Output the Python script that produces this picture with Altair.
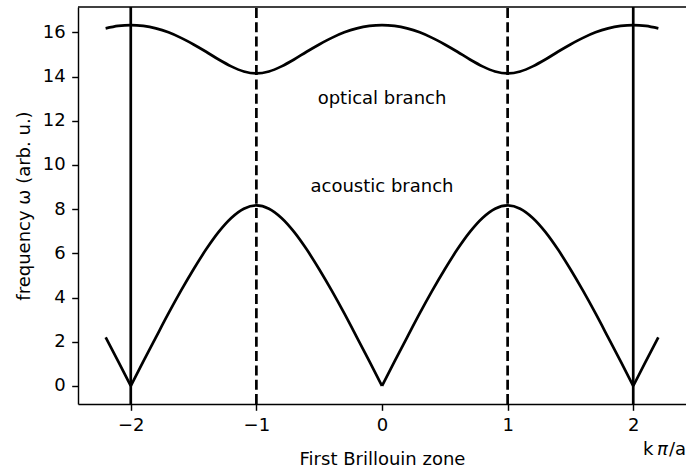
import altair as alt
import pandas as pd

# Wave vector in units of pi/a
k_vals = [-2.2, -2.1, -2.0, -1.9, -1.8, -1.7, -1.6, -1.5, -1.4, -1.3, -1.2,
          -1.1, -1.0, -0.9, -0.8, -0.7, -0.6, -0.5, -0.4, -0.3, -0.2, -0.1,
          0.0, 0.1, 0.2, 0.3, 0.4, 0.5, 0.6, 0.7, 0.8, 0.9, 1.0, 1.1, 1.2,
          1.3, 1.4, 1.5, 1.6, 1.7, 1.8, 1.9, 2.0, 2.1, 2.2]

# Optical branch frequency (arb. u.)
optical = [16.18, 16.29, 16.33, 16.29, 16.18, 16.00, 15.75, 15.45, 15.12,
           14.77, 14.46, 14.23, 14.14, 14.23, 14.46, 14.77, 15.12, 15.45,
           15.75, 16.00, 16.18, 16.29, 16.33, 16.29, 16.18, 16.00, 15.75,
           15.45, 15.12, 14.77, 14.46, 14.23, 14.14, 14.23, 14.46, 14.77,
           15.12, 15.45, 15.75, 16.00, 16.18, 16.29, 16.33, 16.29, 16.18]

# Acoustic branch frequency (arb. u.)
acoustic = [2.20, 1.11, 0.00, 1.11, 2.20, 3.28, 4.31, 5.28, 6.18, 6.97,
            7.60, 8.02, 8.17, 8.02, 7.60, 6.97, 6.18, 5.28, 4.31, 3.28,
            2.20, 1.11, 0.00, 1.11, 2.20, 3.28, 4.31, 5.28, 6.18, 6.97,
            7.60, 8.02, 8.17, 8.02, 7.60, 6.97, 6.18, 5.28, 4.31, 3.28,
            2.20, 1.11, 0.00, 1.11, 2.20]

# Points where the acoustic branch has a kink (omega = 0)
acoustic_cusps = [-2.0, 0.0, 2.0]

# Zone boundaries: solid at +-2, dashed at +-1
solid_lines = [-2, 2]
dashed_lines = [-1, 1]

# Branch annotations
label_text = ["optical branch", "acoustic branch"]
label_k = [0.0, 0.0]
label_w = [12.75, 8.78]

x_ticks = [-2, -1, 0, 1, 2]
y_ticks = [0, 2, 4, 6, 8, 10, 12, 14, 16]

FONT = "DejaVu Sans"
FS = 18
LW = 2.7
W, H = 608, 397

x_scale = alt.Scale(domain=[-2.42, 2.42], nice=False, zero=False)
y_scale = alt.Scale(domain=[-0.8165, 17.146], nice=False, zero=False)

opt_df = pd.DataFrame({"k": k_vals, "w": optical})

# split the acoustic branch at its kinks so the smoothing keeps them sharp
rows = []
seg = 0
for k, w in zip(k_vals, acoustic):
    rows.append({"k": k, "w": w, "seg": seg})
    if any(abs(k - c) < 1e-9 for c in acoustic_cusps):
        seg += 1
        rows.append({"k": k, "w": w, "seg": seg})
ac_df = pd.DataFrame(rows)

x_axis = alt.Axis(
    values=x_ticks, format="d", title="First Brillouin zone", grid=False,
    tickSize=6.3, tickWidth=1.44, tickColor="black",
    domainColor="black", domainWidth=1.44,
    labelFont=FONT, labelFontSize=FS, labelColor="black", labelPadding=6.0,
    titleFont=FONT, titleFontSize=FS, titleFontWeight="normal",
    titleColor="black", titleBaseline="alphabetic", titleY=60,
)
y_axis = alt.Axis(
    values=y_ticks, format="d", title="frequency ω (arb. u.)", grid=False,
    tickSize=6.3, tickWidth=1.44, tickColor="black",
    domainColor="black", domainWidth=1.44,
    labelFont=FONT, labelFontSize=FS, labelColor="black", labelPadding=6.5,
    labelBaseline="middle",
    titleFont=FONT, titleFontSize=FS, titleFontWeight="normal",
    titleColor="black", titleAngle=270, titleBaseline="alphabetic",
    titleAlign="center", titleX=-49, titleY=H / 2,
)

optical_line = alt.Chart(opt_df).mark_line(
    color="black", strokeWidth=LW, interpolate="monotone"
).encode(
    x=alt.X("k:Q", scale=x_scale, axis=x_axis),
    y=alt.Y("w:Q", scale=y_scale, axis=y_axis),
)

acoustic_line = alt.Chart(ac_df).mark_line(
    color="black", strokeWidth=LW, interpolate="monotone"
).encode(
    x=alt.X("k:Q", scale=x_scale),
    y=alt.Y("w:Q", scale=y_scale),
    detail="seg:N",
)

solid_rules = alt.Chart(pd.DataFrame({"k": solid_lines})).mark_rule(
    color="black", strokeWidth=LW
).encode(
    x=alt.X("k:Q", scale=x_scale),
    y=alt.value(H), y2=alt.value(0),
)

dashed_rules = alt.Chart(pd.DataFrame({"k": dashed_lines})).mark_rule(
    color="black", strokeWidth=LW, strokeDash=[10, 4.3]
).encode(
    x=alt.X("k:Q", scale=x_scale),
    y=alt.value(H), y2=alt.value(0),
)

labels = alt.Chart(pd.DataFrame({"k": label_k, "w": label_w, "t": label_text})).mark_text(
    font=FONT, fontSize=FS, color="black", align="center", baseline="alphabetic"
).encode(
    x=alt.X("k:Q", scale=x_scale),
    y=alt.Y("w:Q", scale=y_scale),
    text="t:N",
)

# top frame line
top_spine = alt.Chart(pd.DataFrame({"a": [0]})).mark_rule(
    color="black", strokeWidth=1.44
).encode(x=alt.value(0), x2=alt.value(W), y=alt.value(0))

# "k π/a" unit label at the lower right, π in italics
unit_upright = pd.DataFrame({"t": ["k", "/a"], "px": [565, 591]})
unit_italic = pd.DataFrame({"t": ["π"], "px": [579]})


def unit_text(df, style):
    return alt.Chart(df).mark_text(
        font=FONT, fontSize=FS, color="black", align="left",
        baseline="alphabetic", fontStyle=style,
    ).encode(
        x=alt.X("px:Q", scale=None),
        y=alt.value(448),
        text="t:N",
    )


chart = alt.layer(
    solid_rules, dashed_rules, optical_line, acoustic_line, labels,
    top_spine, unit_text(unit_upright, "normal"), unit_text(unit_italic, "italic"),
).properties(
    width=W, height=H,
    padding={"left": 78, "top": 7, "right": 0, "bottom": 66},
    autosize=alt.AutoSizeParams(type="none"),
    background="white",
).configure_view(stroke=None)

chart.save("out.html", embed_options={"renderer": "svg", "actions": False})
